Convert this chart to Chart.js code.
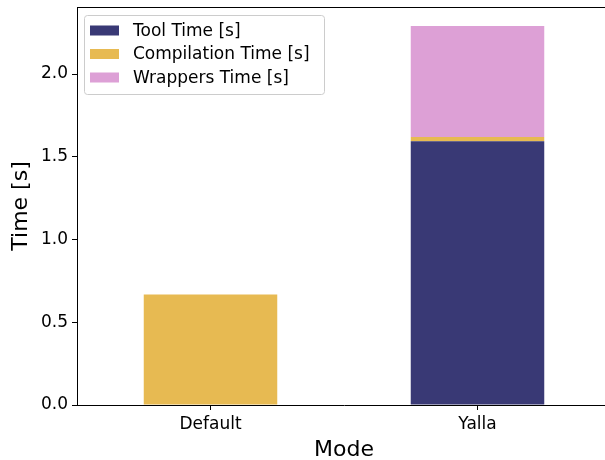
<!DOCTYPE html>
<html>
<head>
<meta charset="utf-8">
<script src="https://cdn.jsdelivr.net/npm/chart.js@4"></script>
<style>
  html, body { margin: 0; padding: 0; background: #fff; overflow: hidden; }
  #wrap { width: 605px; height: 460px; overflow: hidden; }
</style>
</head>
<body>
<div id="wrap"><canvas id="c" width="611" height="460"></canvas></div>
<script>
// ── data ──
const modes = ['Default', 'Yalla'];
const toolTime = [0, 1.594];
const compilationTime = [0.667, 0.026];
const wrappersTime = [0, 0.67];
const yTicks = [0, 0.5, 1.0, 1.5, 2.0];

const FONT = "'DejaVu Sans', sans-serif";

// legend box + top/right spines drawn like matplotlib
const framePlugin = {
  id: 'frame',
  afterDraw(chart) {
    const { ctx, chartArea: a } = chart;
    ctx.save();
    ctx.strokeStyle = '#000';
    ctx.lineWidth = 1;
    ctx.beginPath();
    ctx.moveTo(a.left, a.top + 0.5);
    ctx.lineTo(a.right, a.top + 0.5);
    ctx.moveTo(a.right - 0.5, a.top);
    ctx.lineTo(a.right - 0.5, a.bottom);
    ctx.stroke();

    // legend
    const x = a.left + 7, y = a.top + 8, w = 240, h = 79;
    ctx.fillStyle = 'rgba(255,255,255,0.8)';
    ctx.strokeStyle = '#cccccc';
    ctx.beginPath();
    ctx.roundRect(x + 0.5, y + 0.5, w, h, 3);
    ctx.fill();
    ctx.stroke();
    ctx.font = `17px ${FONT}`;
    ctx.textBaseline = 'middle';
    chart.data.datasets.forEach((ds, i) => {
      const cy = y + 15.5 + i * 23.5;
      ctx.fillStyle = ds.backgroundColor;
      ctx.fillRect(x + 6, cy - 5, 29, 10);
      ctx.fillStyle = '#000';
      ctx.fillText(ds.label, x + 49, cy + 1);
    });
    ctx.restore();
  }
};

new Chart(document.getElementById('c').getContext('2d'), {
  type: 'bar',
  data: {
    labels: modes,
    datasets: [
      { label: 'Tool Time [s]', data: toolTime, backgroundColor: '#393975' },
      { label: 'Compilation Time [s]', data: compilationTime, backgroundColor: '#e7ba52' },
      { label: 'Wrappers Time [s]', data: wrappersTime, backgroundColor: '#dda0d6' }
    ]
  },
  options: {
    responsive: false,
    animation: false,
    layout: { padding: { top: 7, right: 0, left: 0, bottom: 0 } },
    plugins: { legend: { display: false }, tooltip: { enabled: false } },
    datasets: { bar: { barPercentage: 0.5, categoryPercentage: 1.0 } },
    scales: {
      x: {
        stacked: true,
        grid: { display: true, offset: false, drawOnChartArea: false, drawTicks: true, tickLength: 5, color: '#000' },
        border: { display: true, color: '#000', width: 1 },
        ticks: { color: '#000', font: { family: FONT, size: 17 }, padding: 4 },
        title: { display: true, text: 'Mode', color: '#000', font: { family: FONT, size: 22 }, padding: { top: 0, bottom: -3 } },
        afterFit: s => { s.height = 55; s.paddingLeft = 0; s.paddingRight = 0; }
      },
      y: {
        stacked: true,
        min: 0,
        max: 2.405,
        afterBuildTicks: s => { s.ticks = yTicks.map(v => ({ value: v })); },
        grid: { display: true, drawOnChartArea: false, drawTicks: true, tickLength: 5, color: '#000' },
        border: { display: true, color: '#000', width: 1 },
        ticks: { color: '#000', font: { family: FONT, size: 17 }, padding: 4, callback: v => v.toFixed(1) },
        title: { display: true, text: 'Time [s]', color: '#000', font: { family: FONT, size: 22 }, padding: { top: 8, bottom: 0 } },
        afterFit: s => { s.width = 77; s.paddingTop = 0; s.paddingBottom = 0; }
      }
    }
  },
  plugins: [framePlugin]
});
</script>
</body>
</html>
